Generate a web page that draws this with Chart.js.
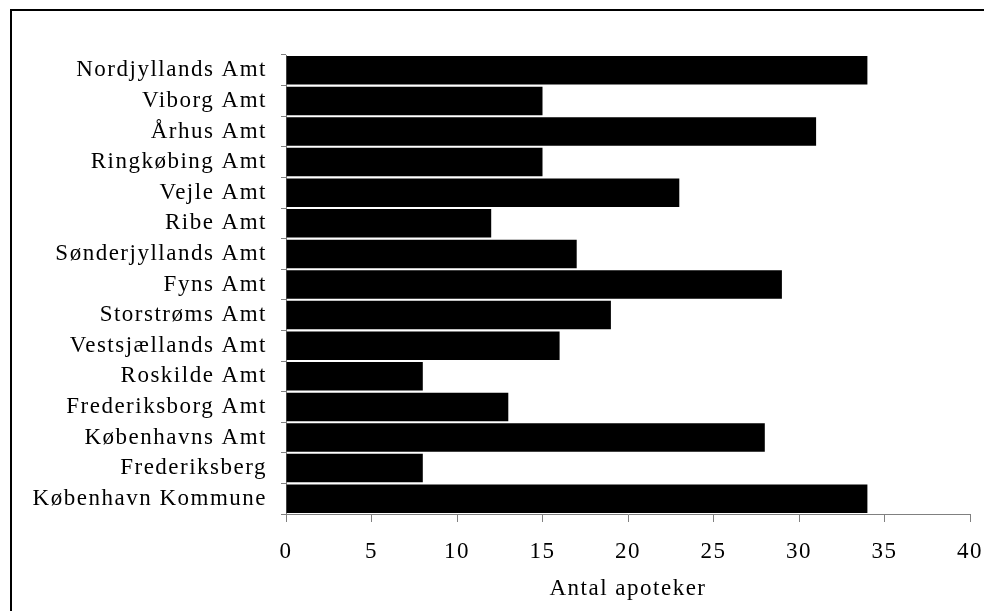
<!DOCTYPE html>
<html lang="da">
<head>
  <meta charset="UTF-8">
  <title>Antal apoteker pr. amt</title>
  <script src="https://cdn.jsdelivr.net/npm/chart.js"></script>
  <style>
    body { margin: 0; background: #fff; }
  </style>
</head>
<body>
  <canvas id="myChart" width="984" height="611"></canvas>
  <script>
    // Data
    const amter = [
      'Nordjyllands Amt', 'Viborg Amt', 'Århus Amt', 'Ringkøbing Amt', 'Vejle Amt',
      'Ribe Amt', 'Sønderjyllands Amt', 'Fyns Amt', 'Storstrøms Amt', 'Vestsjællands Amt',
      'Roskilde Amt', 'Frederiksborg Amt', 'Københavns Amt', 'Frederiksberg', 'København Kommune'
    ];
    const apoteker = [34, 15, 31, 15, 23, 12, 17, 29, 19, 16, 8, 13, 28, 8, 34];
    const xTicks = [0, 5, 10, 15, 20, 25, 30, 35, 40];
    const xTitel = 'Antal apoteker';

    const serif = "'Liberation Serif', 'Times New Roman', serif";

    // ramme rundt om hele diagrammet + lidt bredere skrift som i originalen
    const ramme = {
      id: 'ramme',
      beforeDraw(chart) {
        chart.ctx.letterSpacing = '1.5px';
      },
      afterDraw(chart) {
        const c = chart.ctx;
        c.save();
        c.strokeStyle = '#000';
        c.lineWidth = 2;
        c.strokeRect(11, 10, 1000, 700);
        c.restore();
      }
    };

    const ctx = document.getElementById('myChart').getContext('2d');
    const myChart = new Chart(ctx, {
      type: 'bar',
      data: {
        labels: amter,
        datasets: [{
          data: apoteker,
          backgroundColor: '#000',
          borderWidth: 0,
          barPercentage: 0.93,
          categoryPercentage: 1
        }]
      },
      options: {
        indexAxis: 'y',
        responsive: false,
        animation: false,
        layout: { padding: { top: 55, right: 14, left: 0, bottom: 0 } },
        plugins: {
          legend: { display: false },
          tooltip: { enabled: false }
        },
        scales: {
          x: {
            min: 0,
            max: 40,
            afterBuildTicks: s => { s.ticks = xTicks.map(v => ({ value: v })); },
            afterFit: s => {
              s.height = 97;
              s.paddingLeft = 0;
              s.paddingRight = 0;
            },
            grid: { drawOnChartArea: false, color: '#808080', tickLength: 8 },
            border: { color: '#808080', width: 1 },
            ticks: { color: '#000', padding: 16, font: { family: serif, size: 23 } },
            title: {
              display: true,
              text: xTitel,
              color: '#000',
              padding: { top: 4, bottom: 8 },
              font: { family: serif, size: 23 }
            }
          },
          y: {
            afterFit: s => { s.width = 286; },
            grid: { drawOnChartArea: false, offset: true, color: '#808080', tickLength: 5 },
            border: { color: '#808080', width: 1 },
            ticks: { color: '#000', padding: 14, autoSkip: false, font: { family: serif, size: 23 } }
          }
        }
      },
      plugins: [ramme]
    });
  </script>
</body>
</html>
